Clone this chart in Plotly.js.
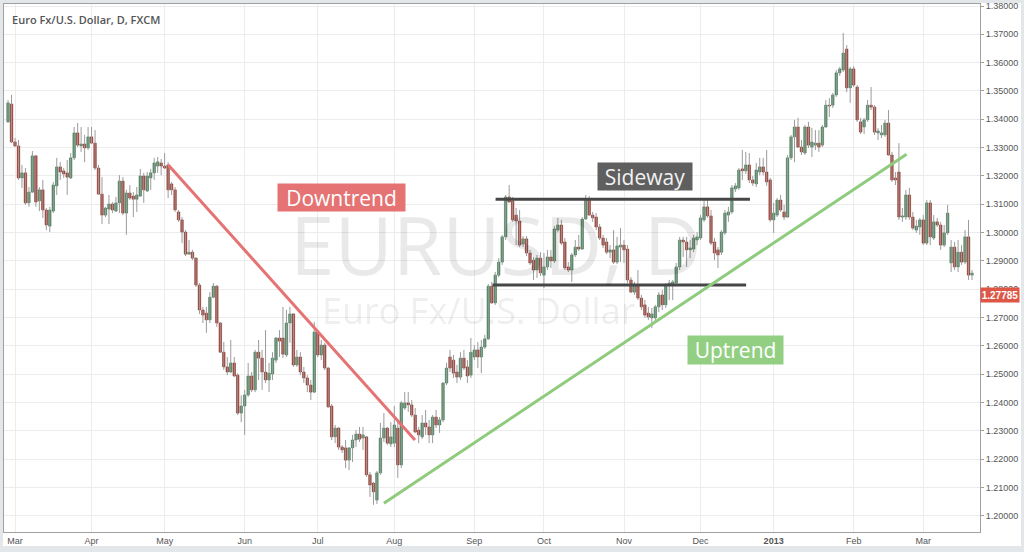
<!DOCTYPE html>
<html><head><meta charset="utf-8">
<script src="https://cdn.plot.ly/plotly-3.0.1.min.js"></script>
<style>
html,body{margin:0;padding:0;background:#e4e7ea;width:1024px;height:552px;overflow:hidden}
#chart{position:absolute;left:3px;top:3px;width:1018px;height:543px;background:#fff}
</style></head><body><div id="chart"></div>
<script>
const startDate = '2012-02-28';
const monthLabels = ['Mar','Apr','May','Jun','Jul','Aug','Sep','Oct','Nov','Dec','<b>2013</b>','Feb','Mar'];
const lastPrice = 1.27785;

const open = [1.3391,1.3454,1.3320,1.3306,1.3193,1.3211,1.3105,1.3143,1.3271,1.3112,
1.3151,1.3080,1.3023,1.3076,1.3165,1.3232,1.3218,1.3211,1.3193,1.3264,
1.3352,1.3306,1.3313,1.3299,1.3338,1.3316,1.3228,1.3136,1.3062,1.3083,
1.3101,1.3076,1.3105,1.3182,1.3069,1.3140,1.3129,1.3118,1.3129,1.3200,
1.3147,1.3193,1.3211,1.3235,1.3246,1.3235,1.3239,1.3172,1.3151,1.3073,
1.3045,1.3002,1.2924,1.2931,1.2910,1.2815,1.2727,1.2716,1.2692,1.2772,
1.2811,1.2681,1.2578,1.2526,1.2508,1.2540,1.2497,1.2363,1.2388,1.2427,
1.2494,1.2445,1.2578,1.2557,1.2508,1.2480,1.2501,1.2550,1.2628,1.2628,
1.2568,1.2681,1.2713,1.2533,1.2561,1.2508,1.2487,1.2462,1.2437,1.2649,
1.2568,1.2603,1.2522,1.2388,1.2279,1.2310,1.2243,1.2240,1.2197,1.2240,
1.2268,1.2289,1.2275,1.2279,1.2145,1.2116,1.2056,1.2152,1.2275,1.2310,
1.2254,1.2257,1.2310,1.2180,1.2381,1.2399,1.2392,1.2356,1.2303,1.2279,
1.2328,1.2314,1.2286,1.2349,1.2321,1.2339,1.2469,1.2561,1.2550,1.2508,
1.2490,1.2557,1.2526,1.2497,1.2561,1.2586,1.2561,1.2596,1.2625,1.2811,
1.2752,1.2850,1.2896,1.2985,1.3126,1.3112,1.3062,1.3041,1.2960,1.2978,
1.2928,1.2903,1.2868,1.2910,1.2850,1.2879,1.2914,1.2900,1.3009,1.3027,
1.2967,1.2879,1.2868,1.2921,1.2949,1.2942,1.3048,1.3115,1.3062,1.3055,
1.3020,1.2981,1.2967,1.2931,1.2939,1.2896,1.2949,1.2956,1.2942,1.2833,
1.2790,1.2815,1.2769,1.2745,1.2716,1.2699,1.2699,1.2738,1.2780,1.2745,
1.2815,1.2819,1.2822,1.2879,1.2974,1.2967,1.2939,1.2942,1.2974,1.2981,
1.3045,1.3091,1.3059,1.2967,1.2939,1.2931,1.2999,1.3062,1.3073,1.3154,
1.3158,1.3225,1.3218,1.3239,1.3186,1.3172,1.3214,1.3232,1.3214,1.3186,
1.3045,1.3062,1.3115,1.3073,1.3055,1.3264,1.3338,1.3373,1.3302,1.3281,
1.3373,1.3302,1.3309,1.3316,1.3309,1.3373,1.3450,1.3450,1.3486,1.3564,
1.3574,1.3648,1.3511,1.3578,1.3514,1.3391,1.3373,1.3398,1.3450,1.3443,
1.3352,1.3345,1.3345,1.3387,1.3274,1.3193,1.3214,1.3055,1.3055,1.3133,
1.3055,1.3009,1.3020,1.3045,1.2963,1.3105,1.2981,1.3038,1.3027,1.2956,
1.2999,1.2893,1.2949,1.2879,1.2931,1.2896,1.2985,1.2850];

const high = [1.3468,1.3486,1.3334,1.3327,1.3239,1.3228,1.3161,1.3288,1.3274,1.3161,
1.3186,1.3087,1.3091,1.3179,1.3264,1.3249,1.3228,1.3256,1.3281,1.3373,
1.3387,1.3373,1.3345,1.3373,1.3373,1.3362,1.3239,1.3196,1.3091,1.3133,
1.3108,1.3126,1.3203,1.3196,1.3151,1.3168,1.3143,1.3161,1.3225,1.3211,
1.3214,1.3225,1.3264,1.3267,1.3260,1.3281,1.3249,1.3179,1.3161,1.3080,
1.3055,1.3009,1.2974,1.2939,1.2914,1.2822,1.2738,1.2738,1.2790,1.2822,
1.2815,1.2685,1.2614,1.2561,1.2621,1.2561,1.2504,1.2426,1.2445,1.2540,
1.2508,1.2586,1.2621,1.2586,1.2656,1.2540,1.2578,1.2632,1.2656,1.2738,
1.2727,1.2738,1.2716,1.2586,1.2578,1.2526,1.2497,1.2480,1.2685,1.2656,
1.2621,1.2611,1.2526,1.2395,1.2321,1.2314,1.2250,1.2268,1.2243,1.2286,
1.2303,1.2314,1.2314,1.2282,1.2155,1.2120,1.2159,1.2328,1.2363,1.2314,
1.2331,1.2388,1.2339,1.2406,1.2437,1.2437,1.2409,1.2381,1.2314,1.2356,
1.2374,1.2339,1.2356,1.2374,1.2349,1.2473,1.2540,1.2586,1.2568,1.2533,
1.2578,1.2586,1.2550,1.2628,1.2603,1.2614,1.2621,1.2639,1.2819,1.2826,
1.2861,1.2910,1.2992,1.3133,1.3168,1.3126,1.3087,1.3080,1.2988,1.2988,
1.2939,1.2914,1.2921,1.2931,1.2928,1.2939,1.2939,1.3023,1.3052,1.3045,
1.2981,1.2896,1.2928,1.2974,1.2992,1.3055,1.3133,1.3129,1.3073,1.3069,
1.3030,1.2992,1.2981,1.2956,1.3009,1.2985,1.3016,1.2974,1.2956,1.2843,
1.2826,1.2868,1.2780,1.2762,1.2738,1.2734,1.2745,1.2790,1.2797,1.2822,
1.2833,1.2833,1.2893,1.2985,1.2985,1.2985,1.2974,1.2992,1.3002,1.3062,
1.3115,1.3115,1.3080,1.2981,1.2949,1.3009,1.3080,1.3091,1.3168,1.3175,
1.3228,1.3292,1.3285,1.3281,1.3200,1.3246,1.3264,1.3264,1.3292,1.3193,
1.3105,1.3122,1.3133,1.3098,1.3274,1.3345,1.3398,1.3405,1.3327,1.3380,
1.3391,1.3370,1.3362,1.3362,1.3380,1.3468,1.3475,1.3493,1.3574,1.3585,
1.3705,1.3662,1.3585,1.3588,1.3521,1.3405,1.3405,1.3468,1.3514,1.3450,
1.3369,1.3380,1.3398,1.3433,1.3285,1.3214,1.3316,1.3087,1.3151,1.3158,
1.3073,1.3045,1.3052,1.3062,1.3115,1.3115,1.3062,1.3052,1.3038,1.3027,
1.3098,1.2974,1.2967,1.2974,1.2956,1.3009,1.3045,1.2868];

const low = [1.3387,1.3316,1.3302,1.3186,1.3158,1.3098,1.3091,1.3140,1.3091,1.3076,
1.3052,1.3009,1.3002,1.3069,1.3133,1.3186,1.3193,1.3133,1.3189,1.3256,
1.3302,1.3285,1.3249,1.3292,1.3313,1.3221,1.3133,1.3030,1.3055,1.3030,
1.3069,1.3073,1.3069,1.3062,1.2992,1.3115,1.3055,1.3073,1.3126,1.3105,
1.3143,1.3151,1.3186,1.3211,1.3203,1.3225,1.3122,1.3133,1.3073,1.3038,
1.2963,1.2917,1.2921,1.2903,1.2808,1.2713,1.2681,1.2646,1.2681,1.2769,
1.2667,1.2575,1.2515,1.2497,1.2504,1.2490,1.2356,1.2331,1.2286,1.2420,
1.2437,1.2437,1.2480,1.2445,1.2469,1.2437,1.2480,1.2540,1.2561,1.2557,
1.2561,1.2611,1.2526,1.2526,1.2497,1.2469,1.2437,1.2409,1.2434,1.2561,
1.2550,1.2515,1.2381,1.2268,1.2257,1.2233,1.2222,1.2169,1.2162,1.2190,
1.2243,1.2261,1.2233,1.2138,1.2067,1.2039,1.2042,1.2145,1.2261,1.2250,
1.2243,1.2243,1.2134,1.2169,1.2374,1.2367,1.2349,1.2293,1.2257,1.2271,
1.2286,1.2257,1.2257,1.2310,1.2293,1.2331,1.2462,1.2508,1.2487,1.2469,
1.2480,1.2515,1.2469,1.2487,1.2550,1.2522,1.2504,1.2589,1.2621,1.2748,
1.2745,1.2843,1.2886,1.2974,1.3105,1.3038,1.2956,1.2949,1.2949,1.2917,
1.2886,1.2833,1.2840,1.2847,1.2804,1.2868,1.2875,1.2893,1.3002,1.2956,
1.2868,1.2861,1.2826,1.2914,1.2935,1.2939,1.3045,1.3059,1.3038,1.3009,
1.2974,1.2946,1.2924,1.2910,1.2889,1.2889,1.2896,1.2893,1.2822,1.2787,
1.2780,1.2762,1.2727,1.2699,1.2692,1.2663,1.2685,1.2720,1.2727,1.2734,
1.2762,1.2762,1.2815,1.2868,1.2914,1.2879,1.2910,1.2931,1.2956,1.2974,
1.3038,1.3052,1.2956,1.2903,1.2875,1.2921,1.2992,1.3038,1.3066,1.3143,
1.3151,1.3186,1.3207,1.3175,1.3165,1.3161,1.3203,1.3203,1.3165,1.3038,
1.2999,1.3055,1.3073,1.3045,1.3052,1.3256,1.3249,1.3299,1.3274,1.3274,
1.3299,1.3267,1.3292,1.3285,1.3302,1.3370,1.3408,1.3440,1.3479,1.3553,
1.3567,1.3496,1.3458,1.3514,1.3391,1.3348,1.3348,1.3391,1.3433,1.3345,
1.3327,1.3334,1.3338,1.3271,1.3179,1.3168,1.3045,1.3038,1.3045,1.3045,
1.3009,1.2999,1.2992,1.2956,1.2956,1.2956,1.2974,1.3020,1.2939,1.2949,
1.2992,1.2861,1.2868,1.2861,1.2886,1.2889,1.2833,1.2833];

const close = [1.3458,1.3320,1.3306,1.3193,1.3211,1.3105,1.3143,1.3271,1.3108,1.3151,
1.3080,1.3027,1.3080,1.3168,1.3232,1.3214,1.3207,1.3196,1.3264,1.3352,
1.3309,1.3313,1.3299,1.3338,1.3316,1.3228,1.3136,1.3062,1.3087,1.3101,
1.3080,1.3105,1.3182,1.3069,1.3140,1.3122,1.3118,1.3133,1.3200,1.3151,
1.3200,1.3211,1.3246,1.3250,1.3235,1.3228,1.3151,1.3151,1.3080,1.3045,
1.3002,1.2924,1.2931,1.2910,1.2815,1.2727,1.2709,1.2692,1.2772,1.2811,
1.2681,1.2578,1.2526,1.2508,1.2540,1.2494,1.2363,1.2388,1.2427,1.2494,
1.2445,1.2578,1.2557,1.2508,1.2480,1.2504,1.2557,1.2628,1.2617,1.2571,
1.2681,1.2713,1.2533,1.2561,1.2508,1.2487,1.2462,1.2437,1.2649,1.2568,
1.2603,1.2522,1.2385,1.2279,1.2310,1.2243,1.2233,1.2197,1.2240,1.2268,
1.2289,1.2271,1.2286,1.2145,1.2109,1.2085,1.2152,1.2275,1.2310,1.2257,
1.2279,1.2321,1.2180,1.2399,1.2399,1.2392,1.2356,1.2296,1.2286,1.2328,
1.2314,1.2286,1.2349,1.2321,1.2339,1.2469,1.2522,1.2522,1.2504,1.2490,
1.2557,1.2522,1.2494,1.2578,1.2586,1.2561,1.2596,1.2625,1.2811,1.2752,
1.2850,1.2896,1.2985,1.3126,1.3108,1.3045,1.3041,1.2956,1.2978,1.2928,
1.2893,1.2868,1.2910,1.2858,1.2879,1.2914,1.2900,1.3013,1.3027,1.2963,
1.2875,1.2868,1.2921,1.2949,1.2942,1.3048,1.3115,1.3062,1.3052,1.3020,
1.2981,1.2956,1.2931,1.2939,1.2896,1.2953,1.2956,1.2939,1.2833,1.2790,
1.2815,1.2769,1.2738,1.2709,1.2702,1.2713,1.2738,1.2780,1.2745,1.2815,
1.2822,1.2826,1.2879,1.2974,1.2967,1.2939,1.2946,1.2981,1.2985,1.3052,
1.3091,1.3059,1.2963,1.2928,1.2921,1.3002,1.3069,1.3073,1.3158,1.3165,
1.3221,1.3218,1.3239,1.3186,1.3175,1.3221,1.3232,1.3214,1.3179,1.3045,
1.3069,1.3115,1.3080,1.3055,1.3264,1.3338,1.3373,1.3302,1.3285,1.3373,
1.3309,1.3320,1.3316,1.3302,1.3373,1.3450,1.3447,1.3486,1.3564,1.3578,
1.3634,1.3511,1.3578,1.3521,1.3398,1.3355,1.3398,1.3450,1.3443,1.3355,
1.3359,1.3352,1.3387,1.3274,1.3186,1.3186,1.3055,1.3059,1.3133,1.3055,
1.3016,1.3023,1.3045,1.2963,1.3105,1.2985,1.3038,1.3027,1.2956,1.2999,
1.3069,1.2949,1.2879,1.2931,1.2896,1.2985,1.2850,1.2857];

// trading-day axis (weekdays from start date)
const n = open.length;
const dates = [];
{ let d = new Date(startDate + 'T00:00:00Z');
  while (dates.length < n) { const wd = d.getUTCDay(); if (wd !== 0 && wd !== 6) dates.push(new Date(d)); d.setUTCDate(d.getUTCDate() + 1); } }
const idx = dates.map((_, i) => i);
const tickvals = [];
for (let i = 1; i < n; i++) if (dates[i].getUTCMonth() !== dates[i - 1].getUTCMonth()) tickvals.push(i);

const UP = '#4f8d63', DOWN = '#ad3a2e', UPLINE = '#2f6843', DOWNLINE = '#7a2219';
const wx = [], wy = [];
for (let i = 0; i < n; i++) { wx.push(i, i, null); wy.push(high[i], low[i], null); }
const bodyColor = idx.map(i => close[i] >= open[i] ? UP : DOWN);
const bodyLine = idx.map(i => close[i] >= open[i] ? UPLINE : DOWNLINE);

const traces = [
  { type: 'scatter', mode: 'lines', x: wx, y: wy, line: { color: '#9b9b9b', width: 1 }, hoverinfo: 'skip', connectgaps: false },
  { type: 'bar', x: idx, base: open, y: idx.map(i => close[i] - open[i]), width: 0.72,
    marker: { color: bodyColor, line: { color: bodyLine, width: 0.5 } }, hoverinfo: 'skip' }
];

const F = '"Open Sans", "DejaVu Sans", sans-serif';
const AX = '"Liberation Sans", Arial, sans-serif';
const layout = {
  width: 1018, height: 543,
  margin: { l: 1, r: 41, t: 1, b: 14, pad: 0 },
  paper_bgcolor: '#ffffff', plot_bgcolor: '#ffffff',
  showlegend: false, bargap: 0,
  xaxis: { range: [-1.16, 279.3], tickvals: tickvals, ticktext: monthLabels, showgrid: true, gridcolor: '#ececec',
    zeroline: false, showline: true, linecolor: '#a0a0a0', linewidth: 1, mirror: true, ticks: '',
    tickfont: { family: AX, size: 9, color: '#555' }, automargin: false, fixedrange: true },
  yaxis: { side: 'right', range: [1.19432, 1.38071], tick0: 1.2, dtick: 0.01, tickformat: '.5f', showgrid: true,
    gridcolor: '#ececec', zeroline: false, showline: true, linecolor: '#a0a0a0', linewidth: 1, mirror: true,
    ticks: 'outside', ticklen: 3, tickcolor: '#a0a0a0', tickfont: { family: AX, size: 9, color: '#555' },
    ticklabeloverflow: 'allow', automargin: false, fixedrange: true },
  shapes: [
    { type: 'line', xref: 'x', yref: 'y', x0: 46.05, y0: 1.3239, x1: 116.94, y1: 1.2268, line: { color: '#e57373', width: 3 } },
    { type: 'line', xref: 'x', yref: 'y', x0: 140.1, y0: 1.3118, x1: 213.2, y1: 1.3118, line: { color: '#474747', width: 3 } },
    { type: 'line', xref: 'x', yref: 'y', x0: 139.2, y0: 1.2815, x1: 212.1, y1: 1.2815, line: { color: '#474747', width: 3 } },
    { type: 'line', xref: 'x', yref: 'y', x0: 108.0, y0: 1.2045, x1: 258.2, y1: 1.3277, line: { color: '#8ecb7c', width: 3 } }
  ],
  annotations: [
    { xref: 'paper', yref: 'paper', x: 0.504, y: 0.547, text: 'EURUSD, D', showarrow: false,
      font: { family: F, size: 80, color: 'rgba(0,0,0,0.085)' } },
    { xref: 'paper', yref: 'paper', x: 0.487, y: 0.4186, text: 'Euro Fx/U.S. Dollar', showarrow: false,
      font: { family: F, size: 36, color: 'rgba(0,0,0,0.085)' } },
    { xref: 'paper', yref: 'paper', x: 0, y: 1, xanchor: 'left', yanchor: 'top', xshift: 6, yshift: -6,
      text: 'Euro Fx/U.S. Dollar, D, FXCM', showarrow: false, font: { family: F, size: 11, color: '#555', weight: 600 } },
    { xref: 'x', yref: 'y', x: 95.82, y: 1.3124, text: 'Downtrend', showarrow: false, width: 127, height: 27,
      bgcolor: '#e57373', borderpad: 0, font: { family: F, size: 21, color: '#ffffff' } },
    { xref: 'x', yref: 'y', x: 183.03, y: 1.3198, text: 'Sideway', showarrow: false, width: 94, height: 27,
      bgcolor: '#5f5f5f', borderpad: 0, font: { family: F, size: 21, color: '#f2f2f2' } },
    { xref: 'x', yref: 'y', x: 209.04, y: 1.2586, text: 'Uptrend', showarrow: false, width: 95, height: 28,
      bgcolor: '#93cf82', borderpad: 0, font: { family: F, size: 21, color: '#ffffff' } },
    { xref: 'paper', yref: 'y', x: 1, y: lastPrice, xanchor: 'left', text: lastPrice.toFixed(5), showarrow: false,
      width: 38, height: 14, bgcolor: '#dd5646', borderpad: 0, font: { family: AX, size: 10, color: '#ffffff', weight: 700 } }
  ]
};
Plotly.newPlot('chart', traces, layout, { staticPlot: true, displayModeBar: false });
</script></body></html>
